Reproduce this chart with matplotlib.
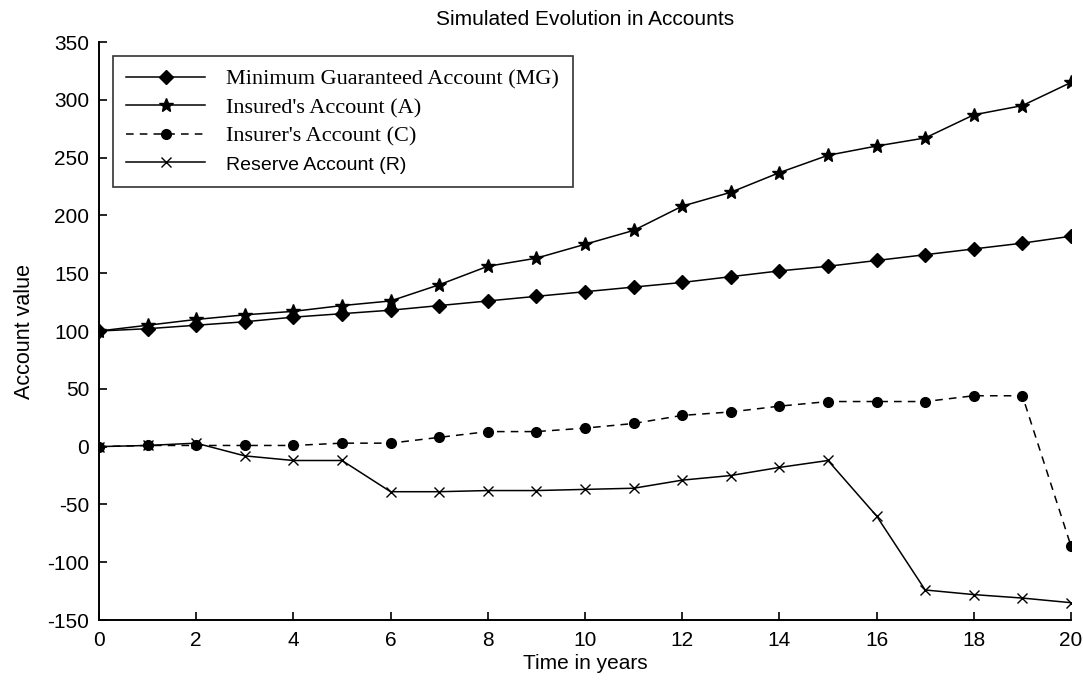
import matplotlib
matplotlib.use("Agg")
import matplotlib.pyplot as plt

years = list(range(0, 21))
mg = [100, 102, 105, 108, 112, 115, 118, 122, 126, 130, 134, 138, 142, 147, 152, 156, 161, 166, 171, 176, 182]
insured = [100, 105, 110, 114, 117, 122, 126, 140, 156, 163, 175, 187, 208, 220, 237, 252, 260, 267, 287, 295, 315]
insurer = [0, 1, 1, 1, 1, 3, 3, 8, 13, 13, 16, 20, 27, 30, 35, 39, 39, 39, 44, 44, -86]
reserve = [0, 1, 3, -8, -12, -12, -39, -39, -38, -38, -37, -36, -29, -25, -18, -12, -60, -124, -128, -131, -135]

labels = ["Minimum Guaranteed Account (MG)", "Insured's Account (A)",
          "Insurer's Account (C)", "Reserve Account (R)"]
xticks = list(range(0, 21, 2))
yticks = list(range(-150, 351, 50))

plt.rcParams['font.family'] = ['Liberation Sans', 'DejaVu Sans']
plt.rcParams['axes.unicode_minus'] = False

fig = plt.figure(figsize=(10.83, 6.83), dpi=100)
ax = fig.add_axes([0.0914, 0.0922, 0.8975, 0.8463])

ax.plot(years, mg, color='black', lw=1.1, marker='D', markersize=7, label=labels[0])
ax.plot(years, insured, color='black', lw=1.1, marker='*', markersize=10, label=labels[1])
ax.plot(years, insurer, color='black', lw=1.1, ls=(0, (5, 4)), marker='o', markersize=7, label=labels[2])
ax.plot(years, reserve, color='black', lw=1.1, marker='x', markersize=7, markeredgewidth=1.0, label=labels[3])

ax.set_xlim(0, 20)
ax.set_ylim(-150, 350)
ax.set_xticks(xticks)
ax.set_yticks(yticks)
ax.tick_params(direction='in', length=6, width=1.2, labelsize=15)
ax.tick_params(axis='x', pad=8)
ax.tick_params(axis='y', pad=7)
for s in ['top', 'right']:
    ax.spines[s].set_visible(False)
for s in ['left', 'bottom']:
    ax.spines[s].set_linewidth(1.4)

ax.set_title("Simulated Evolution in Accounts", fontsize=15, pad=12)
ax.set_xlabel("Time in years", fontsize=15, labelpad=3)
ax.set_ylabel("Account value", fontsize=15.5, labelpad=9)

leg = ax.legend(loc='upper left', bbox_to_anchor=(0.0144, 0.9758), frameon=True, fancybox=False,
                edgecolor='black', handlelength=3.55, handletextpad=0.95, borderpad=0.6,
                labelspacing=0.35, fontsize=16, borderaxespad=0)
leg.get_frame().set_linewidth(1.2)
for i, t in enumerate(leg.get_texts()):
    if i < 3:
        t.set_family(['Liberation Serif', 'DejaVu Serif'])
    else:
        t.set_family(['Liberation Sans', 'DejaVu Sans'])
        t.set_fontsize(14)

fig.savefig("out.png", dpi=100)
